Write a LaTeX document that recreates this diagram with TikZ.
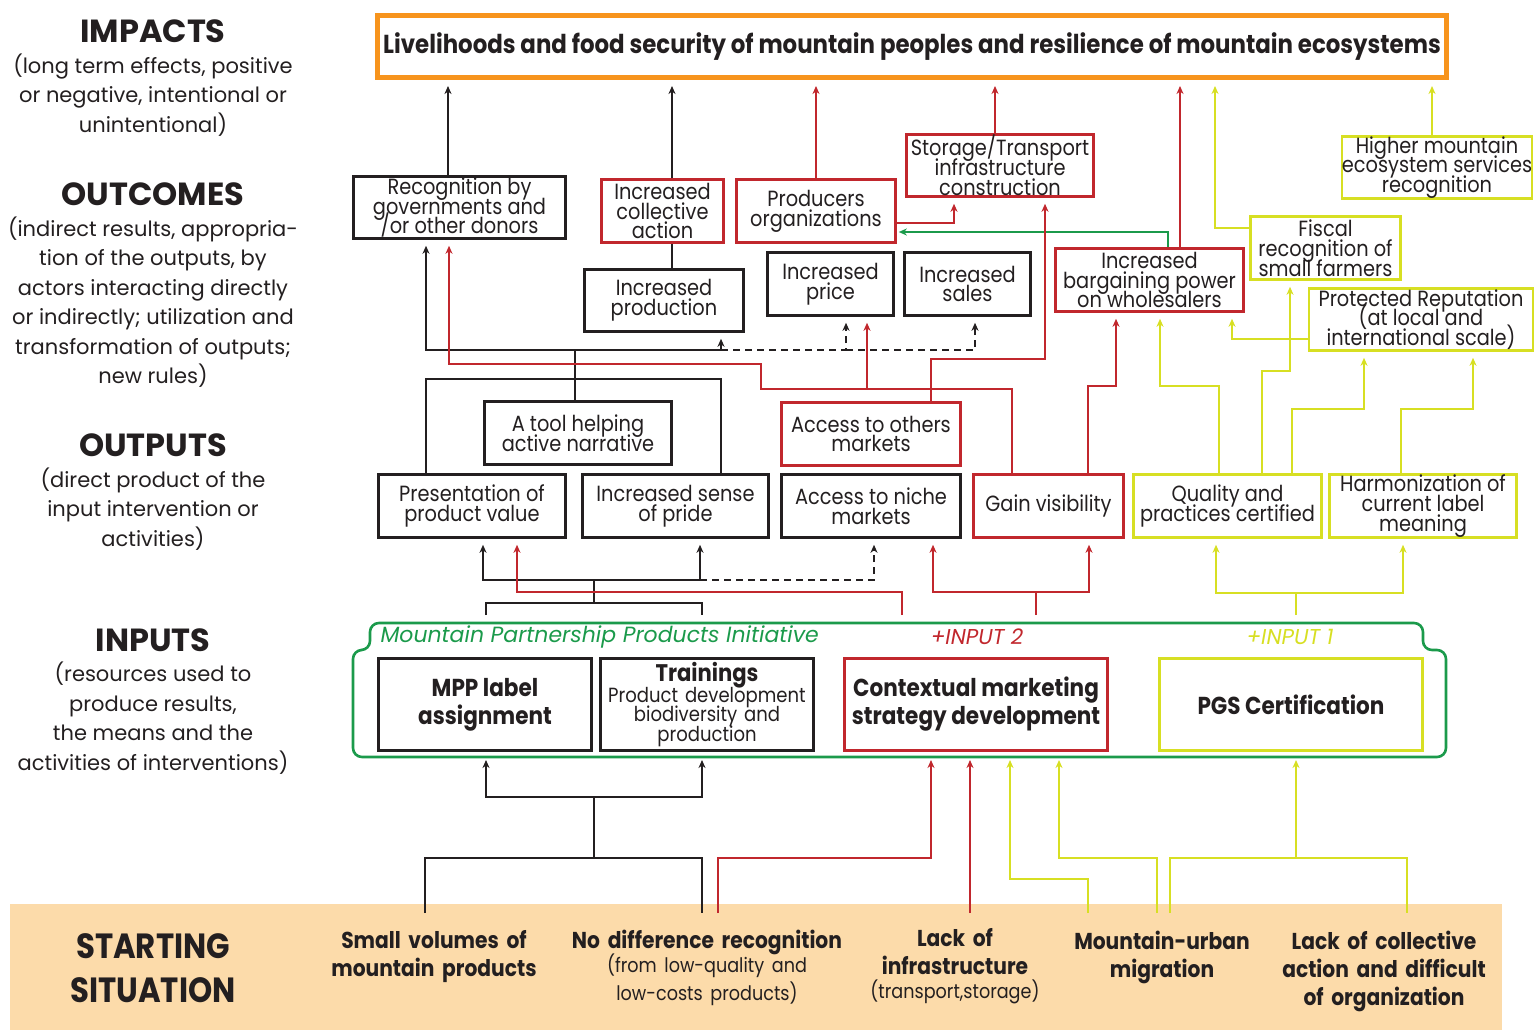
\documentclass[tikz,border=0pt]{standalone}
\usepackage{fontspec}
\setmainfont{Poppins}
\newfontfamily\narrowfont{Poppins}[FakeStretch=0.88]
\newcommand\sitnote{\narrowfont\mdseries\fontsize{20}{23}\selectfont}
\newcommand\tightlines{\lineskiplimit=-50pt\lineskip=0pt}
\usetikzlibrary{arrows.meta}
\definecolor{inkgray}{HTML}{231F20}
\definecolor{orgline}{HTML}{F7941D}
\definecolor{redline}{HTML}{C1272D}
\definecolor{yelline}{HTML}{D7DF23}
\definecolor{grnline}{HTML}{1B9A4B}
\definecolor{peach}{HTML}{FCDBAA}
\begin{document}
\begin{tikzpicture}[x=1pt,y=-1pt,
  ln/.style={line width=1.3pt},
  blk/.style={ln,draw=inkgray},
  rd/.style={ln,draw=redline},
  yl/.style={ln,draw=yelline},
  gr/.style={ln,draw=grnline},
  arr/.style={-{Stealth[length=8pt,width=7pt,inset=2.5pt]},shorten >=6pt},
  dsh/.style={dash pattern=on 7pt off 5pt},
  box/.style={draw=inkgray,line width=2.6pt,inner sep=0pt,align=center,text=inkgray,font=\narrowfont\fontsize{22}{19.8}\selectfont\tightlines},
  redbox/.style={box,draw=redline},
  yelbox/.style={box,draw=yelline},
  inbox/.style={box,font=\narrowfont\bfseries\fontsize{24.5}{28}\selectfont,minimum width=213pt,minimum height=92pt},
  side/.style={align=center,text=inkgray,font=\fontsize{21}{29.5}\selectfont},
  head/.style={text=inkgray,font=\bfseries\fontsize{32}{32}\selectfont},
  sitlabel/.style={align=center,text width=300pt,text=inkgray,font=\narrowfont\bfseries\fontsize{23}{28}\selectfont}
]
\useasboundingbox (0,0) rectangle (1536,1030);
\node[fill=peach,minimum width=1492pt,minimum height=126pt,anchor=north west,inner sep=0pt] (start) at (10,904) {}; %starting situation band
\coordinate (btop) at (0,913); %free ends in the band
\coordinate (ctop) at (0,615); %free ends above the initiative
\coordinate (cbot) at (0,757); %bottom of the initiative

% left column
\node[head] (impacts) at (153,31) {IMPACTS};
\node[side] (impactsdesc) at (153,95) {(long term effects, positive\\or negative, intentional or\\unintentional)};
\node[head] (outcomes) at (153,194) {OUTCOMES};
\node[side] (outcomesdesc) at (153,302) {(indirect results, appropria-\\tion of the outputs, by\\actors interacting directly\\or indirectly; utilization and\\transformation of outputs;\\new rules)};
\node[head] (outputs) at (153,445) {OUTPUTS};
\node[side] (outputsdesc) at (153,509) {(direct product of the\\input intervention or\\activities)};
\node[head] (inputs) at (153,640) {INPUTS};
\node[side] (inputsdesc) at (153,718) {(resources used to\\produce results,\\the means and the\\activities of interventions)};
\node[text=inkgray,align=center,font=\narrowfont\bfseries\fontsize{35}{44}\selectfont] (startlbl) at (153,968) {STARTING\\SITUATION};

% impact
\node[box,draw=orgline,line width=5pt,minimum width=1069pt,minimum height=62pt,font=\narrowfont\bfseries\fontsize{26}{26}\selectfont] (imp) at (912,46.5) {Livelihoods and food security of mountain peoples and resilience of mountain ecosystems};

% outcomes
\node[box,minimum width=212pt,minimum height=62pt] (rec) at (459.5,207.5) {Recognition by\\governments and\\/or other donors};
\node[redbox,minimum width=122pt,minimum height=63pt] (coll) at (662.5,211) {Increased\\collective\\action};
\node[redbox,minimum width=159pt,minimum height=63pt] (prodorg) at (816,211) {Producers\\organizations};
\node[redbox,minimum width=187pt,minimum height=62pt] (storage) at (1000,165.5) {Storage/Transport\\infrastructure\\construction};
\node[yelbox,minimum width=187pt,minimum height=62pt] (higher) at (1437,167.5) {Higher mountain\\ecosystem services\\recognition};
\node[yelbox,minimum width=150pt,minimum height=63pt] (fiscal) at (1325.5,248) {Fiscal\\recognition of\\small farmers};
\node[box,minimum width=159pt,minimum height=62pt] (incprod) at (664,300.5) {Increased\\production};
\node[box,minimum width=126pt,minimum height=63pt] (price) at (830.5,284) {Increased\\price};
\node[box,minimum width=126pt,minimum height=63pt] (sales) at (967.5,284) {Increased\\sales};
\node[redbox,minimum width=188pt,minimum height=63pt] (bargain) at (1149.5,280) {Increased\\bargaining power\\on wholesalers};
\node[yelbox,minimum width=224pt,minimum height=62pt] (protect) at (1421,319.5) {Protected Reputation\\(at local and\\international scale)};

% outputs
\node[box,minimum width=187pt,minimum height=63pt] (tool) at (578,433) {A tool helping\\active narrative};
\node[redbox,minimum width=179pt,minimum height=63pt] (others) at (871,434) {Access to others\\markets};
\node[box,minimum width=187pt,minimum height=63pt] (pres) at (472,506) {Presentation of\\product value};
\node[box,minimum width=186pt,minimum height=63pt] (pride) at (675.5,506) {Increased sense\\of pride};
\node[box,minimum width=179pt,minimum height=63pt] (niche) at (871,506) {Access to niche\\markets};
\node[redbox,minimum width=150pt,minimum height=63pt] (gain) at (1048.5,506) {Gain visibility};
\node[yelbox,minimum width=188pt,minimum height=63pt] (quality) at (1227.5,506) {Quality and\\practices certified};
\node[yelbox,minimum width=187pt,minimum height=63pt] (harmon) at (1423,506) {Harmonization of\\current label\\meaning};

% inputs
\draw[grnline,line width=2.6pt,rounded corners=9pt] (900,623) -- (1423,623) -- (1423,650) -- (1446,650) -- (1446,757) -- (353,757) -- (353,650) -- (370,650) -- (370,623) -- cycle; %initiative frame
\node[anchor=west,text=grnline,font=\itshape\fontsize{22}{22}\selectfont] (mppi) at (377,637) {Mountain Partnership Products Initiative};
\node[text=redline,font=\itshape\fontsize{21.5}{21.5}\selectfont] (inp2) at (977,637) {+INPUT 2};
\node[text=yelline,font=\itshape\fontsize{21.5}{21.5}\selectfont] (inp1) at (1290,637) {+INPUT 1};
\node[inbox] (mpp) at (485,704.5) {MPP label\\assignment};
\node[inbox,text width=210pt,font=\narrowfont\fontsize{20.5}{19.8}\selectfont\tightlines] (train) at (707,704.5) {{\bfseries\fontsize{24}{19.8}\selectfont Trainings}\\[1pt]Product development\\biodiversity and\\production};
\node[inbox,draw=redline,minimum width=263pt] (context) at (976,704.5) {Contextual marketing\\strategy development};
\node[inbox,draw=yelline,minimum width=263pt] (pgs) at (1291,704.5) {PGS Certification};

% starting situation
\node[sitlabel] (smallvol) at (434,957) {Small volumes of\\mountain products};
\node[sitlabel] (nodiff) at (707,968) {No difference recognition\\[-2pt]{\sitnote (from low-quality and\\low-costs products)}};
\node[sitlabel] (lackinf) at (955,966) {Lack of\\infrastructure\\[-4pt]{\sitnote (transport,storage)}};
\node[sitlabel] (migr) at (1162,957) {Mountain-urban\\migration};
\node[sitlabel] (lackcoll) at (1384,971) {Lack of collective\\action and difficult\\of organization};

% arrows to impact
\draw[blk,arr] (448,0 |- rec.north) -- (448,0 |- imp.south);
\draw[blk,arr] (672,0 |- coll.north) -- (672,0 |- imp.south);
\draw[rd,arr] (816,0 |- prodorg.north) -- (816,0 |- imp.south);
\draw[rd,arr] (995,0 |- storage.north) -- (995,0 |- imp.south);
\draw[rd,arr] (1180,0 |- bargain.north) -- (1180,0 |- imp.south);
\draw[yl,arr] (fiscal.west |- 0,228) -| (1215,0 |- imp.south);
\draw[yl,arr] (1432,0 |- higher.north) -- (1432,0 |- imp.south);

% outcomes among themselves
\draw[rd,arr] (prodorg.east |- 0,223) -| (954,0 |- storage.south);
\draw[gr,arr,shorten >=2pt] (1168,0 |- bargain.north) |- (prodorg.east |- 0,232);
\draw[blk] (672,0 |- coll.south) -- (672,0 |- incprod.north);
\draw[yl,arr] (protect.west |- 0,339) -| (1232,0 |- bargain.south);

% outputs to outcomes
\draw[blk] (426,0 |- pres.north) |- (721,379) -- (721,0 |- pride.north); %pres and pride
\draw[blk,arr] (575,0 |- tool.north) -- (575,350) -| (426,0 |- rec.south);
\draw[blk,arr] (575,350) -| (721,0 |- incprod.south);
\draw[blk,dsh,arr] (721,350) -| (846,0 |- price.south);
\draw[blk,dsh,arr] (846,350) -| (975,0 |- sales.south);
\draw[rd,arr] (1012,0 |- gain.north) |- (761,389) |- (449,364) -- (449,0 |- rec.south);
\draw[rd,arr] (867,389) -- (867,0 |- price.south);
\draw[rd,arr] (931,0 |- others.north) |- (1045,359) -- (1045,0 |- storage.south);
\draw[rd,arr] (1088,0 |- gain.north) |- (1116,386) -- (1116,0 |- bargain.south);
\draw[yl,arr] (1219,0 |- quality.north) |- (1160,386) -- (1160,0 |- bargain.south);
\draw[yl,arr] (1262,0 |- quality.north) |- (1290,371) -- (1290,0 |- fiscal.south);
\draw[yl,arr] (1292,0 |- quality.north) |- (1364,409) -- (1364,0 |- protect.south);
\draw[yl,arr] (1401,0 |- harmon.north) |- (1473,409) -- (1473,0 |- protect.south);

% inputs to outputs
\draw[blk] (486,0 |- ctop) |- (702,603) -- (702,0 |- ctop);
\draw[blk,arr] (594,603) -- (594,580) -| (483,0 |- pres.south);
\draw[blk,arr] (594,580) -| (700,0 |- pride.south);
\draw[blk,dsh,arr] (700,580) -| (874,0 |- niche.south);
\draw[rd,arr] (902,0 |- ctop) |- (517,592) -- (517,0 |- pres.south);
\draw[rd,arr] (1036,0 |- ctop) -- (1036,592) -| (933,0 |- niche.south);
\draw[rd,arr] (1036,592) -| (1089,0 |- gain.south);
\draw[yl,arr] (1296,0 |- ctop) -- (1296,593) -| (1216,0 |- quality.south);
\draw[yl,arr] (1296,593) -| (1403,0 |- harmon.south);

% starting situation to inputs
\draw[blk] (425,0 |- btop) |- (702,858) -- (702,0 |- btop);
\draw[blk,arr,shorten >=3pt] (594,858) -- (594,797) -| (486,0 |- cbot);
\draw[blk,arr,shorten >=3pt] (594,797) -| (702,0 |- cbot);
\draw[rd,arr,shorten >=3pt] (718,0 |- btop) |- (931,858) -- (931,0 |- cbot);
\draw[rd,arr,shorten >=3pt] (970,0 |- btop) -- (970,0 |- cbot);
\draw[yl,arr,shorten >=3pt] (1088,0 |- btop) |- (1010,879) -- (1010,0 |- cbot);
\draw[yl,arr,shorten >=3pt] (1157,0 |- btop) |- (1059,858) -- (1059,0 |- cbot);
\draw[yl] (1170,0 |- btop) |- (1407,858) -- (1407,0 |- btop);
\draw[yl,arr,shorten >=3pt] (1296,858) -- (1296,0 |- cbot);
\end{tikzpicture}
\end{document}
